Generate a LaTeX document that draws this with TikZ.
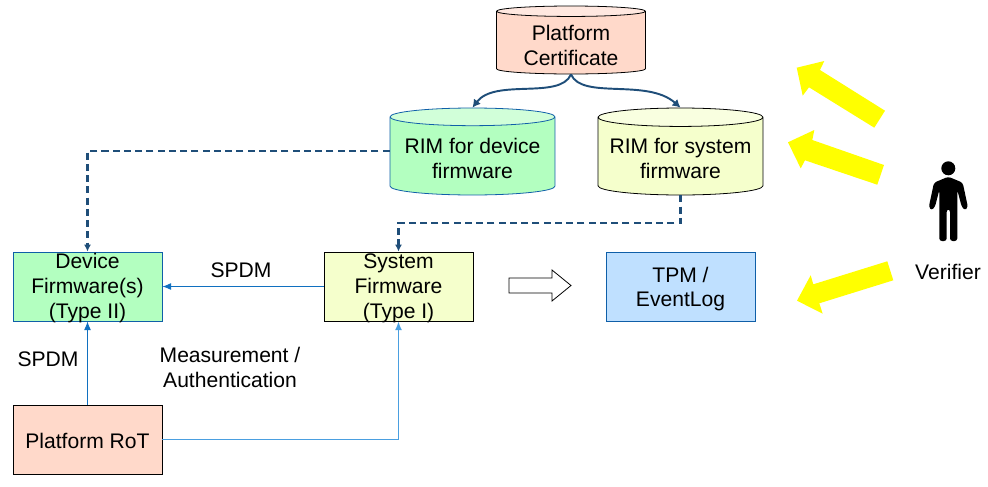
\documentclass[tikz,border=0pt]{standalone}
\usepackage{fontspec}
\setmainfont{Liberation Sans}
\usepackage{xcolor}
\usetikzlibrary{arrows.meta, positioning, calc, shapes.geometric}

\definecolor{peach}{HTML}{FFD9CA}
\definecolor{peachtop}{HTML}{FFE8E0}
\definecolor{mint}{HTML}{B3FFC0}
\definecolor{minttop}{HTML}{D1FFD9}
\definecolor{lime}{HTML}{F5FFCC}
\definecolor{limetop}{HTML}{F9FFE0}
\definecolor{sky}{HTML}{BFE0FF}
\definecolor{edgeblue}{HTML}{0F5FA8}
\definecolor{linkblue}{HTML}{1070C0}
\definecolor{lightlink}{HTML}{4A9FE0}
\definecolor{darklink}{HTML}{1F4E79}
\definecolor{claimyellow}{HTML}{FFFF00}

\tikzset{
  every node/.style={font=\fontsize{12}{14.2}\selectfont, align=center, inner sep=0pt},
  fwbox/.style={draw, line width=0.45pt, minimum width=2.98cm, minimum height=1.38cm, text depth=0pt},
  store/.style={draw, line width=0.45pt, cylinder, shape border rotate=90, aspect=#1, cylinder uses custom fill, anchor=shape center, text height=25.5pt, text depth=0pt},
  link/.style={draw=linkblue, line width=0.55pt, -{Latex[length=5pt,width=4pt]}},
  trust/.style={draw=darklink, line width=1.2pt, dashed, dash pattern=on 4pt off 2.4pt, -{Latex[length=4pt,width=4pt]}},
  chain/.style={draw=darklink, line width=1.1pt, -{Latex[length=4.5pt,width=5pt]}},
  claim/.style={fill=claimyellow, draw=none},
}

\begin{document}
\begin{tikzpicture}[x=0.02cm, y=-0.02cm]
  \useasboundingbox (0,0) rectangle (988,487);
  % ---- stores ----
  \node[store=0.11, cylinder body fill=peach, cylinder end fill=peachtop, minimum width=2.98cm, minimum height=1.36cm] (cert) at (571,40) {Platform\\Certificate};
  \node[store=0.13, draw=edgeblue, cylinder body fill=mint, cylinder end fill=minttop, minimum width=3.3cm, minimum height=1.74cm] (rimdev) at (472.5,151.5) {RIM for device\\firmware};
  \node[store=0.13, cylinder body fill=lime, cylinder end fill=limetop, minimum width=3.3cm, minimum height=1.74cm] (rimsys) at (680.5,151.5) {RIM for system\\firmware};
  % ---- boxes ----
  \node[fwbox, text height=36pt, draw=edgeblue, fill=mint] (devfw) at (87.5,286.5) {Device\\Firmware(s)\\(Type II)};
  \node[fwbox, text height=36pt, fill=lime] (sysfw) at (398.5,286.5) {System\\Firmware\\(Type I)};
  \node[fwbox, text height=9.7pt, fill=peach] (rot) at (87.5,439.5) {Platform RoT};
  \node[fwbox, text height=23.3pt, draw=edgeblue, fill=sky] (tpm) at (680.5,286.5) {TPM /\\EventLog};
  % ---- labels ----
  \node (spdmtop) at (241,270) {SPDM};
  \node (spdmleft) at (48,359) {SPDM};
  \node (measure) at (230,367.5) {Measurement /\\Authentication};
  \node (verifier) at (948,272) {Verifier};
  % ---- connectors ----
  \draw[chain] (cert.south) .. controls (560,100) and (495,78) .. (rimdev.north);
  \draw[chain] (cert.south) .. controls (582,100) and (647,78) .. (rimsys.north);
  \draw[trust] ($(rimdev.west)+(0,-5)$) -| (devfw.north);
  \draw[trust] (rimsys.south) |- (398.5,223) -- (sysfw.north);
  \draw[link] (sysfw.west) -- (devfw.east);
  \draw[link] (rot.north) -- (devfw.south);
  \draw[link, draw=lightlink, line width=0.8pt] (rot.east) -| (sysfw.south);
  % ---- hollow arrow ----
  \draw[line width=0.45pt, fill=white] (509,278) -- (552,278) -- (552,270) -- (571,285.5) -- (552,301) -- (552,293) -- (509,293) -- cycle;
  % ---- yellow arrows ----
  \fill[claim] (885,110.7) -- (820,70) -- (824.3,61) -- (796.7,67.7) -- (802.7,95.7) -- (809,87.3) -- (874.3,127.7) -- cycle;
  \fill[claim] (884,165) -- (812.3,140) -- (814.3,130) -- (788,142.3) -- (800.7,168.3) -- (805,160.3) -- (877.3,184.7) -- cycle;
  \fill[claim] (887.3,261.3) -- (813.3,284.3) -- (810.7,275.3) -- (797,300.7) -- (822.7,313.7) -- (819.3,303.3) -- (893.3,280.3) -- cycle;
  % ---- person ----
  \fill (948.3,168.3) circle (7);
  \fill[rounded corners=1.5pt] (948.3,176.7) -- (962.7,182.7) -- (967.9,207) -- (965,210.5) -- (961.7,206.7) -- (957.3,190) -- (957.3,241) -- (950,241) -- (950,209.3) -- (946.7,209.3) -- (946.7,241) -- (939.3,241) -- (939.3,190) -- (935,206.7) -- (931.7,210.5) -- (928.8,207) -- (934,182.7) -- cycle;
\end{tikzpicture}
\end{document}
